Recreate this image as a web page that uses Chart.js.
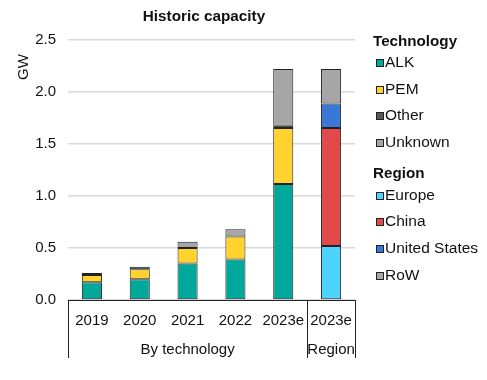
<!DOCTYPE html>
<html>
<head>
<meta charset="utf-8">
<script src="https://cdn.jsdelivr.net/npm/chart.js@4/dist/chart.umd.min.js"></script>
<style>
html,body{margin:0;padding:0;background:#fff;}
#wrap{width:487px;height:380px;}
</style>
</head>
<body>
<div id="wrap"><canvas id="c" width="487" height="380"></canvas></div>
<script>
const titleText = 'Historic capacity';
const yTitle = 'GW';
const categories = ['2019', '2020', '2021', '2022', '2023e', '2023e'];
const groupLabels = ['By technology', 'Region'];
const groupSizes = [5, 1];
const yTicks = [0, 0.5, 1.0, 1.5, 2.0, 2.5];

const alk     = [0.17, 0.20, 0.35, 0.39, 1.115, null];
const pem     = [0.07, 0.095, 0.15, 0.22, 0.54, null];
const other   = [0.02, 0.025, null, null, 0.02, null];
const unknown = [null, null, 0.06, 0.07, 0.545, null];
const europe  = [null, null, null, null, null, 0.52];
const china   = [null, null, null, null, null, 1.135];
const us      = [null, null, null, null, null, 0.235];
const rowv    = [null, null, null, null, null, 0.33];

const techNames = ['ALK', 'PEM', 'Other', 'Unknown'];
const regionNames = ['Europe', 'China', 'United States', 'RoW'];
const techColors = ['#00A89C', '#FFD22E', '#595959', '#A6A6A6'];
const regionColors = ['#4DD3FF', '#E04A4A', '#3A78D6', '#A6A6A6'];

const FONT = '"Liberation Sans", Arial, sans-serif';
Chart.defaults.font.family = FONT;
Chart.defaults.color = '#111';

function ds(label, data, color) {
  return {label, data, backgroundColor: color, borderColor: '#222', borderWidth: 1,
    borderSkipped: false, barPercentage: 0.42, categoryPercentage: 1.0, stack: 's'};
}

const datasets = [
  ds(techNames[0], alk, techColors[0]),
  ds(techNames[1], pem, techColors[1]),
  ds(techNames[2], other, techColors[2]),
  ds(techNames[3], unknown, techColors[3]),
  ds(regionNames[0], europe, regionColors[0]),
  ds(regionNames[1], china, regionColors[1]),
  ds(regionNames[2], us, regionColors[2]),
  ds(regionNames[3], rowv, regionColors[3])
];

const decor = {
  id: 'decor',
  afterDraw(chart) {
    const ctx = chart.ctx;
    const area = chart.chartArea;
    const xs = chart.scales.x;
    ctx.save();
    // title
    ctx.fillStyle = '#111';
    ctx.font = 'bold 15.3px ' + FONT;
    ctx.textAlign = 'center';
    ctx.textBaseline = 'middle';
    ctx.fillText(titleText, 204, 17);
    // y title
    ctx.save();
    ctx.translate(24, 67);
    ctx.rotate(-Math.PI / 2);
    ctx.font = '15px ' + FONT;
    ctx.fillText(yTitle, 0, 0);
    ctx.restore();
    // group separators
    const bounds = [area.left];
    let idx = 0;
    groupSizes.forEach(n => {
      idx += n;
      if (idx < categories.length) {
        bounds.push((xs.getPixelForValue(idx - 1) + xs.getPixelForValue(idx)) / 2);
      } else {
        bounds.push(area.right);
      }
    });
    ctx.strokeStyle = '#222';
    ctx.lineWidth = 1;
    bounds.forEach(b => {
      const bx = Math.round(b) + 0.5;
      ctx.beginPath();
      ctx.moveTo(bx, area.bottom);
      ctx.lineTo(bx, area.bottom + 58);
      ctx.stroke();
    });
    ctx.font = '15px ' + FONT;
    ctx.fillStyle = '#111';
    groupLabels.forEach((g, i) => {
      ctx.fillText(g, (bounds[i] + bounds[i + 1]) / 2, area.bottom + 50);
    });
    // legend
    const lx = 373;
    ctx.textAlign = 'left';
    function header(t, y) {
      ctx.font = 'bold 15.2px ' + FONT;
      ctx.fillStyle = '#111';
      ctx.fillText(t, lx, y);
    }
    function item(t, c, y) {
      ctx.fillStyle = c;
      ctx.fillRect(lx + 3, y - 4, 8, 8);
      ctx.strokeStyle = '#222';
      ctx.strokeRect(lx + 3.5, y - 3.5, 7, 7);
      ctx.font = '15.5px ' + FONT;
      ctx.fillStyle = '#111';
      ctx.fillText(t, lx + 12, y);
    }
    header('Technology', 42);
    const techY = [63, 90, 116, 143];
    techNames.forEach((n, i) => item(n, techColors[i], techY[i]));
    header('Region', 174);
    const regY = [196, 222, 249, 276];
    regionNames.forEach((n, i) => item(n, regionColors[i], regY[i]));
    ctx.restore();
  }
};

new Chart(document.getElementById('c'), {
  type: 'bar',
  data: {labels: categories, datasets},
  options: {
    responsive: false,
    animation: false,
    devicePixelRatio: 1,
    layout: {padding: {top: 40, right: 132, left: 0, bottom: 0}},
    plugins: {legend: {display: false}, title: {display: false}, tooltip: {enabled: false}},
    scales: {
      x: {
        stacked: true,
        grid: {display: false, drawTicks: false},
        border: {display: true, color: '#222', width: 1},
        ticks: {font: {size: 15}, padding: 12, maxRotation: 0, autoSkip: false},
        afterFit(s) { s.height = 80; }
      },
      y: {
        stacked: true,
        min: 0, max: 2.5,
        afterBuildTicks(s) { s.ticks = yTicks.map(v => ({value: v})); },
        grid: {color: '#d9d9d9', lineWidth: 1.5, drawTicks: false},
        border: {display: false},
        ticks: {font: {size: 15}, padding: 12, callback: v => Number(v).toFixed(1)},
        afterFit(s) { s.width = 68; }
      }
    }
  },
  plugins: [decor]
});
</script>
</body>
</html>
